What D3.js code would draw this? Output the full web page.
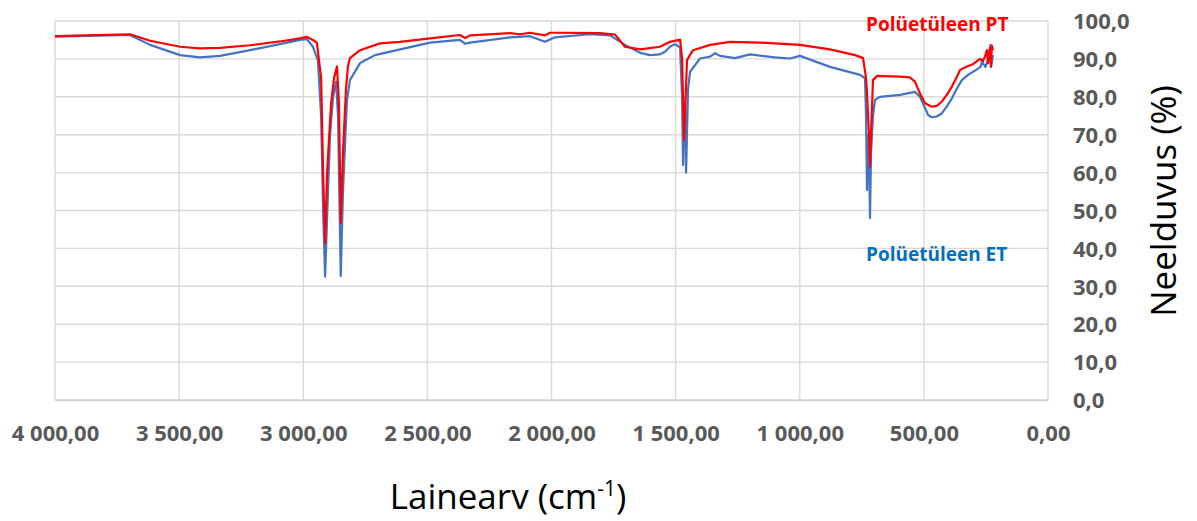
<!DOCTYPE html>
<html>
<head>
<meta charset="utf-8">
<script src="https://cdn.jsdelivr.net/npm/d3@7"></script>
<style>
    body { margin: 0; background: #fff; }
    text { font-family: "Open Sans", sans-serif; }
</style>
</head>
<body>
<div id="chart"></div>
<script>
// spectra: wavenumber (cm-1) and value (%)
const ptWave = [4000, 3698, 3617, 3496, 3416, 3335, 3214, 3094, 3013, 2985, 2961, 2945, 2928, 2920, 2912, 2904, 2888, 2876, 2864, 2856, 2849, 2840, 2828, 2820, 2812, 2771, 2691, 2610, 2489, 2369, 2348, 2328, 2167, 2127, 2087, 2026, 2006, 1966, 1805, 1744, 1704, 1643, 1563, 1523, 1482, 1474, 1466, 1462, 1454, 1430, 1361, 1281, 1160, 999, 878, 777, 745, 733, 729, 725, 721, 717, 713, 705, 689, 596, 556, 536, 516, 495, 468, 448, 428, 408, 387, 367, 354, 327, 302, 274, 262, 254, 246, 242, 234, 230, 226, 222];
const ptValues = [96.0, 96.5, 94.8, 93.2, 92.8, 92.9, 93.6, 94.6, 95.4, 95.8, 95.0, 94.2, 85, 60, 41.4, 60, 78, 85, 88, 78, 46.7, 65, 82, 88, 90.2, 92.3, 94.1, 94.5, 95.4, 96.3, 95.5, 96.2, 96.8, 96.5, 96.9, 96.2, 96.9, 96.9, 96.8, 96.4, 93.2, 92.5, 93.2, 94.5, 95.1, 90, 68.6, 76, 89.7, 92.3, 93.7, 94.5, 94.3, 93.7, 92.5, 91.0, 90.2, 85, 81, 75, 70, 61.6, 70, 84.4, 85.5, 85.3, 85.1, 84.0, 80.9, 78.3, 77.4, 77.6, 78.7, 80.5, 82.7, 85.3, 87.1, 88.0, 88.6, 90.0, 89.5, 90.6, 92.3, 88.9, 92.9, 88.0, 93.5, 92.3];

const etWave = [4000, 3698, 3617, 3496, 3416, 3335, 3214, 3094, 3013, 2985, 2961, 2941, 2928, 2920, 2912, 2904, 2892, 2880, 2868, 2860, 2849, 2840, 2824, 2812, 2771, 2711, 2671, 2610, 2489, 2369, 2348, 2328, 2167, 2087, 2026, 1986, 1845, 1764, 1704, 1643, 1603, 1563, 1543, 1523, 1503, 1482, 1474, 1470, 1466, 1462, 1458, 1450, 1442, 1402, 1361, 1341, 1321, 1261, 1200, 1100, 1039, 999, 878, 757, 737, 733, 729, 725, 721, 717, 713, 705, 697, 677, 596, 536, 516, 495, 483, 468, 448, 428, 408, 387, 367, 347, 322, 294, 272, 266, 252, 238, 232, 229, 222];
const etValues = [95.9, 96.3, 93.7, 91.0, 90.4, 90.8, 92.3, 93.9, 95.0, 95.2, 93.2, 89.7, 75, 50, 32.5, 48, 70, 80, 84.0, 75, 32.7, 55, 79, 84.4, 88.9, 91.0, 91.6, 92.5, 94.3, 95.0, 94.0, 94.3, 95.7, 96.0, 94.5, 95.7, 96.5, 96.2, 93.7, 91.6, 91.0, 91.2, 91.9, 93.2, 93.9, 93.0, 80, 62, 75, 78, 60, 82, 86.6, 90.1, 90.6, 91.5, 90.8, 90.2, 91.2, 90.4, 90.1, 90.8, 87.9, 85.8, 84.9, 75, 55.4, 70, 65, 48, 65, 75, 79.2, 80.0, 80.5, 81.3, 80.0, 77.0, 75.2, 74.6, 74.8, 75.6, 77.4, 79.6, 82.2, 84.4, 85.8, 86.9, 87.9, 89.3, 87.9, 90.2, 93.7, 87.9, 91];

const xTicks = [4000, 3500, 3000, 2500, 2000, 1500, 1000, 500, 0];
const yTicks = [0, 10, 20, 30, 40, 50, 60, 70, 80, 90, 100];

const seriesNames = ["Polüetüleen ET", "Polüetüleen PT"];

const width = 1197;
const height = 521;
const plot = { left: 55, right: 1048, top: 21, bottom: 400 };

const locale = d3.formatLocale({ decimal: ",", thousands: "\u00a0", grouping: [3], currency: ["", ""] });
const xFormat = locale.format(",.2f");
const yFormat = locale.format(".1f");

const svg = d3.select("#chart")
    .append("svg")
    .attr("width", width)
    .attr("height", height);

const x = d3.scaleLinear().domain([4000, 0]).range([plot.left, plot.right]);
const y = d3.scaleLinear().domain([0, 100]).range([plot.bottom, plot.top]);

// grid
const grid = svg.append("g").attr("stroke", "#d9d9d9").attr("stroke-width", 1.4);
grid.selectAll(".hgrid")
    .data(yTicks)
    .enter()
    .append("line")
    .attr("x1", plot.left)
    .attr("x2", plot.right)
    .attr("y1", d => y(d))
    .attr("y2", d => y(d));
grid.selectAll(".vgrid")
    .data(xTicks)
    .enter()
    .append("line")
    .attr("x1", d => x(d))
    .attr("x2", d => x(d))
    .attr("y1", plot.top)
    .attr("y2", plot.bottom);

// axes
const xAxis = svg.append("g")
    .attr("transform", `translate(0,${plot.bottom})`)
    .call(d3.axisBottom(x).tickValues(xTicks).tickFormat(xFormat).tickSize(0).tickPadding(25));

const yAxis = svg.append("g")
    .attr("transform", `translate(${plot.right},0)`)
    .call(d3.axisRight(y).tickValues(yTicks).tickFormat(yFormat).tickSize(0).tickPadding(25));

[xAxis, yAxis].forEach(a => {
    a.select(".domain").attr("stroke", "#cfcfcf").attr("stroke-width", 1.4);
    a.selectAll("text")
        .style("font-family", "'Open Sans', sans-serif")
        .style("font-size", "22px")
        .style("font-weight", "bold")
        .attr("fill", "#595959");
});
yAxis.select(".domain").remove();
yAxis.selectAll("text").attr("dy", "0.35em");

// spectra
const line = d3.line()
    .x(d => x(d[0]))
    .y(d => y(d[1]));

svg.append("path")
    .datum(d3.zip(etWave, etValues))
    .attr("d", line)
    .attr("fill", "none")
    .attr("stroke", "#4472c4")
    .attr("stroke-width", 2.2)
    .attr("stroke-linejoin", "round");

svg.append("path")
    .datum(d3.zip(ptWave, ptValues))
    .attr("d", line)
    .attr("fill", "none")
    .attr("stroke", "#ff0000")
    .attr("stroke-width", 2.2)
    .attr("stroke-linejoin", "round");

// series labels
svg.append("text")
    .attr("x", 866)
    .attr("y", 31)
    .attr("fill", "#ff0000")
    .style("font-size", "19px")
    .style("font-weight", "bold")
    .text(seriesNames[1]);

svg.append("text")
    .attr("x", 866)
    .attr("y", 261)
    .attr("fill", "#0070c0")
    .style("font-size", "19px")
    .style("font-weight", "bold")
    .text(seriesNames[0]);

// axis titles
const xTitle = svg.append("text")
    .attr("x", 508)
    .attr("y", 509)
    .attr("text-anchor", "middle")
    .attr("fill", "#000")
    .style("font-size", "35px");
xTitle.append("tspan").text("Lainearv (cm");
xTitle.append("tspan").attr("dy", -13).style("font-size", "21px").text("-1");
xTitle.append("tspan").attr("dy", 13).text(")");

svg.append("text")
    .attr("transform", "translate(1176,201) rotate(-90)")
    .attr("text-anchor", "middle")
    .attr("fill", "#000")
    .style("font-size", "35px")
    .text("Neelduvus (%)");
</script>
</body>
</html>
